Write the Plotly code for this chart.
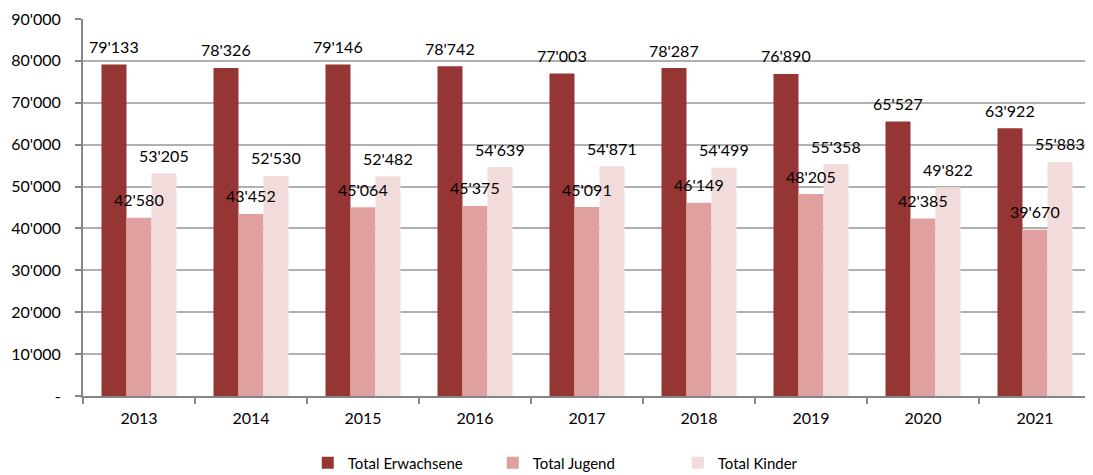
import plotly.graph_objects as go

years = ["2013", "2014", "2015", "2016", "2017", "2018", "2019", "2020", "2021"]
erwachsene = [79133, 78326, 79146, 78742, 77003, 78287, 76890, 65527, 63922]
jugend = [42580, 43452, 45064, 45375, 45091, 46149, 48205, 42385, 39670]
kinder = [53205, 52530, 52482, 54639, 54871, 54499, 55358, 49822, 55883]
series_names = ["Total Erwachsene", "Total Jugend", "Total Kinder"]
colors = ["#963634", "#E0A09F", "#F2DCDB"]
tick_vals = list(range(0, 90001, 10000))
tick_text = ["-"] + [f"{v:,}".replace(",", "'") for v in tick_vals[1:]]

FONT = "Lato, Calibri, Carlito, sans-serif"


def fmt(v):
    return f"{v:,}".replace(",", "'")


fig = go.Figure()
all_series = [erwachsene, jugend, kinder]
for name, vals, col in zip(series_names, all_series, colors):
    fig.add_trace(go.Bar(x=years, y=vals, name=name, marker_color=col,
                         marker_line_width=0))

annotations = []
shifts = [-25, 0, 25]
for vals, dx in zip(all_series, shifts):
    for i, v in enumerate(vals):
        annotations.append(dict(x=i, y=v, xref="x", yref="y", text=fmt(v),
                                showarrow=False, xshift=dx, yshift=18,
                                yanchor="middle",
                                font=dict(family=FONT, size=16, color="#000000")))

# the page body has an 8px margin, so the figure is 8px smaller than the window
fig.update_layout(
    width=1085, height=467,
    margin=dict(l=75, r=2, t=11, b=79, autoexpand=False),
    paper_bgcolor="white", plot_bgcolor="white",
    barmode="group", bargap=0.33, bargroupgap=0,
    font=dict(family=FONT, size=16, color="#000000"),
    annotations=annotations,
    legend=dict(orientation="h", x=0.223, xanchor="left", y=-0.178, yanchor="middle",
                font=dict(family=FONT, size=15), itemwidth=30,
                entrywidth=140, entrywidthmode="pixels"),
    xaxis=dict(type="category", range=[-0.5, len(years) - 0.5], automargin=False,
               showline=True, linecolor="#868686", linewidth=2,
               ticks="outside", ticklen=6, tickcolor="#868686", tickwidth=2,
               tickson="boundaries", ticklabelstandoff=7, showgrid=False,
               tickangle=0),
    yaxis=dict(range=[0, 90000], tickvals=tick_vals, ticktext=tick_text,
               automargin=False,
               showline=True, linecolor="#868686", linewidth=2,
               ticks="outside", ticklen=6, tickcolor="#868686", tickwidth=2,
               showgrid=True, gridcolor="#b0b0b0", gridwidth=1.5,
               zeroline=False, ticklabelstandoff=11),
)

fig.write_html("out.html")
